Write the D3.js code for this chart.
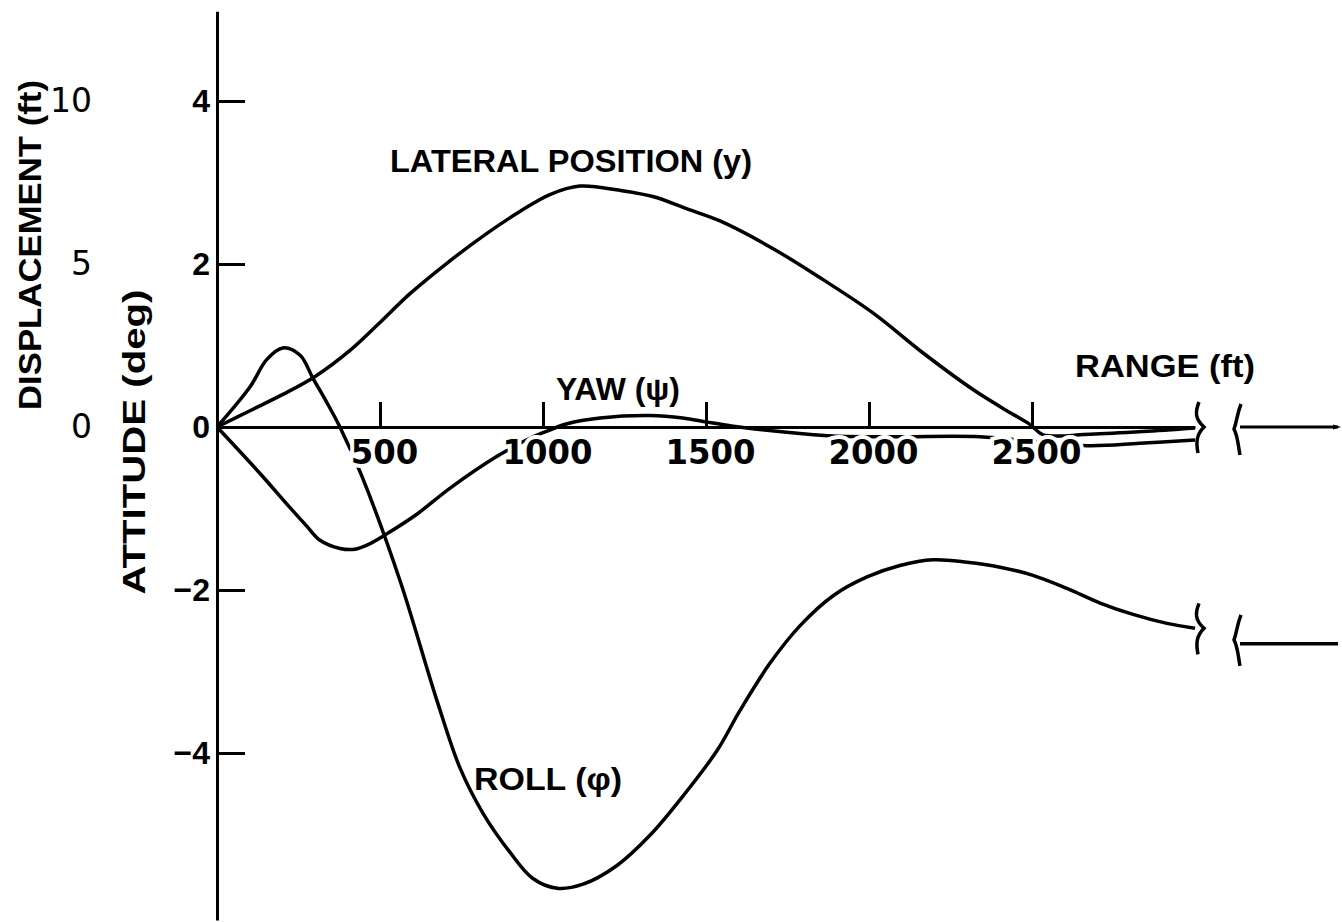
<!DOCTYPE html>
<html>
<head>
<meta charset="utf-8">
<script src="https://cdn.jsdelivr.net/npm/d3@7/dist/d3.min.js"></script>
<style>
  body { margin: 0; background: #fff; }
  text { font-family: "Liberation Sans", Arial, sans-serif; fill: #000; }
</style>
</head>
<body>
<svg class="svg1" width="1342" height="922"></svg>
<script>
    // lateral position y (ft) vs range (ft)
    var latRange = [0, 101, 202, 301, 408, 491, 592, 706, 828, 929, 1021, 1113, 1236, 1337, 1442, 1543, 1706, 1859, 2012, 2166, 2319, 2423, 2488, 2503, 2534, 2678, 2840, 3000];
    var latFt    = [0, 0.50, 1.00, 1.55, 2.35, 3.12, 4.09, 5.03, 5.94, 6.61, 7.13, 7.39, 7.26, 7.07, 6.69, 6.32, 5.47, 4.52, 3.50, 2.27, 1.15, 0.50, 0.12, 0, -0.24, -0.22, -0.14, -0.03];

    // roll phi (deg)
    var rollRange = [0, 101, 153, 202, 255, 294, 337, 377, 445, 561, 675, 745, 816, 899, 969, 1043, 1123, 1227, 1328, 1429, 1534, 1604, 1696, 1788, 1890, 1994, 2095, 2196, 2301, 2402, 2503, 2607, 2709, 2810, 2914, 3000];
    var rollDeg   = [0, 0.49, 0.83, 0.97, 0.88, 0.60, 0.30, 0, -0.61, -1.88, -3.36, -4.18, -4.74, -5.22, -5.54, -5.66, -5.61, -5.38, -5.01, -4.53, -3.97, -3.48, -2.90, -2.44, -2.07, -1.84, -1.70, -1.63, -1.66, -1.72, -1.82, -1.98, -2.16, -2.30, -2.41, -2.47];
    var rollSteady = -2.66;

    // yaw psi (deg)
    var yawRange = [0, 132, 224, 276, 316, 377, 423, 460, 521, 613, 715, 859, 969, 1000, 1074, 1175, 1328, 1429, 1503, 1583, 1687, 1788, 1890, 2095, 2340, 2669, 2831, 3000];
    var yawDeg   = [0, -0.57, -0.99, -1.22, -1.39, -1.49, -1.50, -1.45, -1.31, -1.07, -0.75, -0.36, -0.12, -0.07, 0.04, 0.11, 0.14, 0.11, 0.06, 0.01, -0.04, -0.08, -0.11, -0.12, -0.12, -0.23, -0.20, -0.16];

    var rangeTicks = [500, 1000, 1500, 2000, 2500];
    var attTicks = [-4, -2, 0, 2, 4];
    var dispTicks = [0, 5, 10];
    var FT_PER_DEG = 2.5;

    var svg1 = d3.select(".svg1");
    var width = +svg1.attr("width");
    var height = +svg1.attr("height");

    var scaleX = d3.scaleLinear().domain([0, 3000]).range([217, 1195]);
    var scaleY = d3.scaleLinear().domain([-6.05, 5.1]).range([427 + 6.05 * 81.5, 427 - 5.1 * 81.5]);
    var scaleDisp = d3.scaleLinear().domain([-6.05 * FT_PER_DEG, 5.1 * FT_PER_DEG]).range(scaleY.range());

    function zip(xs, ys, k) {
        return xs.map(function(x, i) { return [x, ys[i] / (k || 1)]; });
    }

    var line = d3.line()
        .x(function(d) { return scaleX(d[0]); })
        .y(function(d) { return scaleY(d[1]); })
        .curve(d3.curveCatmullRom.alpha(0.5));

    var curves = svg1.append("g")
        .attr("fill", "none")
        .attr("stroke", "#000")
        .attr("stroke-width", 3.5)
        .attr("stroke-linejoin", "round");

    curves.append("path").attr("d", line(zip(latRange, latFt, FT_PER_DEG)));
    curves.append("path").attr("d", line(zip(rollRange, rollDeg)));
    curves.append("path").attr("d", line(zip(yawRange, yawDeg)));

    // broken range axis: second segment after the break
    var xb1 = scaleX(3000) + 3;
    var xb2 = xb1 + 42;

    curves.append("line")
        .attr("x1", xb2).attr("x2", width - 4)
        .attr("y1", scaleY(rollSteady)).attr("y2", scaleY(rollSteady));

    curves.append("line")
        .attr("x1", xb2).attr("x2", width - 4)
        .attr("y1", scaleY(0)).attr("y2", scaleY(0))
        .attr("stroke-width", 3);

    svg1.append("path")
        .attr("d", "M" + (width - 9) + "," + (scaleY(0) - 2.5) + "L" + (width - 1) + "," + scaleY(0) + "L" + (width - 9) + "," + (scaleY(0) + 2.5) + "Z")
        .attr("fill", "#000");

    function brace(x, y, dir) {
        // squiggly break mark, dir 1 bulges right, -1 bulges left
        var b = 6 * dir;
        return "M" + (x + 1) + "," + (y - 25) +
               "C" + (x - 3) + "," + (y - 15) + " " + (x - 3) + "," + (y - 8) + " " + (x + b) + "," + y +
               "C" + (x - 2) + "," + (y + 8) + " " + (x - 2) + "," + (y + 16) + " " + (x) + "," + (y + 26);
    }

    var breaks = svg1.append("g")
        .attr("fill", "none")
        .attr("stroke", "#000")
        .attr("stroke-width", 3.5);
    breaks.append("path").attr("d", brace(xb1, scaleY(0), 1));
    breaks.append("path").attr("d", brace(xb2, scaleY(0) + 2, -1));
    breaks.append("path").attr("d", brace(xb1, scaleY(rollDeg[rollDeg.length - 1]), 1));
    breaks.append("path").attr("d", brace(xb2, scaleY(rollSteady) - 4, -1));

    // range axis
    var xAxis = d3.axisBottom(scaleX)
        .tickValues(rangeTicks)
        .tickSizeInner(-25)
        .tickSizeOuter(0)
        .tickPadding(14)
        .tickFormat(d3.format("d"));

    var gx = svg1.append("g")
        .attr("transform", "translate(0," + scaleY(0) + ")")
        .call(xAxis);
    gx.selectAll("path, line").attr("stroke", "#000").attr("stroke-width", 3);
    gx.selectAll("text")
        .attr("dx", 4)
        .style("font-family", "'DejaVu Sans', sans-serif")
        .style("font-size", "33px")
        .style("font-weight", "bold")
        .attr("textLength", function(d) { return String(d).length * 22.5; })
        .attr("lengthAdjust", "spacingAndGlyphs")
        .attr("stroke", "#fff")
        .attr("stroke-width", 8)
        .attr("paint-order", "stroke");

    // attitude axis
    var yAxis = d3.axisLeft(scaleY)
        .tickValues(attTicks)
        .tickSizeInner(-28)
        .tickSizeOuter(0)
        .tickPadding(7)
        .tickFormat(function(d) { return d < 0 ? "\u2212" + (-d) : d; });

    var gy = svg1.append("g")
        .attr("transform", "translate(" + scaleX(0) + ",0)")
        .call(yAxis);
    gy.selectAll("path, line").attr("stroke", "#000").attr("stroke-width", 3);
    gy.selectAll("text")
        .style("font-size", "32px")
        .style("font-weight", "bold");

    // displacement scale (labels only)
    var dAxis = d3.axisLeft(scaleDisp)
        .tickValues(dispTicks)
        .tickSize(0)
        .tickPadding(0);

    var gd = svg1.append("g")
        .attr("transform", "translate(92,0)")
        .call(dAxis);
    gd.select(".domain").remove();
    gd.selectAll("text")
        .style("font-family", "'DejaVu Sans', sans-serif")
        .style("font-size", "33px");

    // axis titles
    svg1.append("text")
        .attr("transform", "translate(30,245) rotate(-90)")
        .attr("text-anchor", "middle")
        .attr("dominant-baseline", "central")
        .attr("textLength", 330)
        .attr("lengthAdjust", "spacingAndGlyphs")
        .style("font-size", "31px")
        .style("font-weight", "bold")
        .text("DISPLACEMENT (ft)");

    svg1.append("text")
        .attr("transform", "translate(134,442) rotate(-90)")
        .attr("text-anchor", "middle")
        .attr("dominant-baseline", "central")
        .attr("textLength", 305)
        .attr("lengthAdjust", "spacingAndGlyphs")
        .style("font-size", "31px")
        .style("font-weight", "bold")
        .text("ATTITUDE (deg)");

    // curve labels
    var labels = [
        { text: "LATERAL POSITION (y)", x: 390, y: 172, w: 362 },
        { text: "YAW (\u03c8)", x: 556, y: 400, w: 124 },
        { text: "ROLL (\u03c6)", x: 474, y: 790, w: 148 },
        { text: "RANGE (ft)", x: 1075, y: 377, w: 180 }
    ];

    svg1.selectAll(".clabel")
        .data(labels)
        .enter()
        .append("text")
        .attr("class", "clabel")
        .attr("x", function(d) { return d.x; })
        .attr("y", function(d) { return d.y; })
        .attr("textLength", function(d) { return d.w; })
        .attr("lengthAdjust", "spacingAndGlyphs")
        .style("font-size", "32px")
        .style("font-weight", "bold")
        .text(function(d) { return d.text; });
</script>
</body>
</html>
